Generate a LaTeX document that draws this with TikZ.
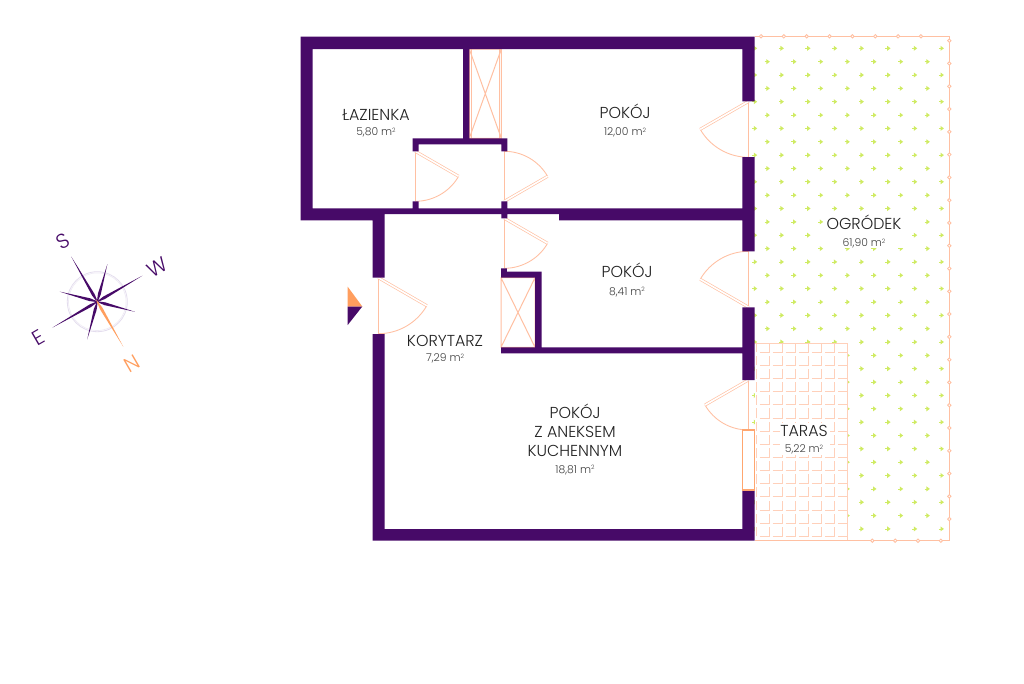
\documentclass[tikz,border=0pt]{standalone}
\usepackage{fontspec}
\setmainfont{Poppins Light}
\definecolor{wallc}{HTML}{470A68}
\definecolor{peach}{HTML}{FFC0A2}
\definecolor{tilec}{HTML}{FFD0BA}
\definecolor{markc}{HTML}{FF9E5E}
\definecolor{leafc}{HTML}{CFEB62}
\definecolor{inkc}{HTML}{222222}
\definecolor{inkb}{HTML}{404040}
\definecolor{ringc}{HTML}{E4DDEE}
\tikzset{
  wallfill/.style={fill=wallc},
  doorline/.style={draw=peach,line width=.65pt},
  doorleaf/.style={draw=peach,line width=.5pt,double=white,double distance=1.2pt},
  shaftline/.style={draw=peach,line width=.75pt},
  tileline/.style={draw=tilec,line width=.7pt},
  roomname/.style={anchor=base,text=inkc,font=\fontsize{11.9}{13}\selectfont,inner sep=0pt},
  roomarea/.style={anchor=base,text=inkb,font=\fontsize{8.1}{9}\selectfont,inner sep=0pt},
  compassletter/.style={font=\fontsize{15.5}{17}\selectfont,inner sep=0pt,rotate=30},
}
\newcommand{\sqm}{m\raisebox{.55ex}{\fontsize{4.5}{5}\selectfont 2}}
\newcommand{\doorswing}[5]{%
  \draw[doorline] (#1,#2) -- +(#5:#3);
  \draw[doorline] (#1,#2) +(#4:#3) arc[start angle=#4,end angle=#5,radius=#3];
  \draw[doorleaf] (#1,#2) -- +(#4:#3);
}
\newcommand{\spike}[3]{%
  \begin{scope}[shift={(97.3,301.7)},rotate=#1]
    \fill[fill=#3] (0,-#2) -- (1.45,-8) -- (0,3) -- (-1.45,-8) -- cycle;
  \end{scope}
}
\begin{document}
\begin{tikzpicture}[x=.75pt,y=-.75pt]
\useasboundingbox (0,0) rectangle (1024,683);
\fill[white] (0,0) rectangle (1024,683);
% garden arrows
\foreach \k in {0,...,18}{\foreach \j in {0,...,7}{
  \pgfmathsetmacro{\ax}{754.7+26.67*\j}\pgfmathsetmacro{\ay}{48.3+26.7*\k}
  \draw[leafc,line width=.5pt] (\ax-2.6,\ay) -- (\ax,\ay);
  \fill[leafc] (\ax-.9,\ay-2.5) -- (\ax+2.5,\ay) -- (\ax-.9,\ay+2.5) -- cycle;
}}
\foreach \k in {0,...,17}{\foreach \j in {0,...,6}{
  \pgfmathsetmacro{\ax}{767.3+26.67*\j}\pgfmathsetmacro{\ay}{61.7+26.7*\k}
  \draw[leafc,line width=.5pt] (\ax-2.6,\ay) -- (\ax,\ay);
  \fill[leafc] (\ax-.9,\ay-2.5) -- (\ax+2.5,\ay) -- (\ax-.9,\ay+2.5) -- cycle;
}}
\fill[white] (825,215) rectangle (903,248);
% terrace
\fill[white] (754.7,343) rectangle (847.5,540.7);
\foreach \r in {0,...,14}{\foreach \c in {0,...,6}{
  \pgfmathsetmacro{\tx}{769.3+13.1*\c}\pgfmathsetmacro{\ty}{352.3+13.15*\r}
  \draw[tileline] (\tx-9.8,\ty) -- (\tx,\ty) -- (\tx,\ty-9.6);
}}
\foreach \r in {0,...,14}{\pgfmathsetmacro{\ty}{352.3+13.15*\r}
  \draw[tileline] (756,\ty) -- (756,\ty-9.6);}
\fill[white] (780,423) rectangle (830,455);
\draw[tileline] (748,343) -- (847.7,343) -- (847.7,540.7);
% garden fence
\draw[doorline,line width=.75pt] (754.7,36.3) -- (949.3,36.3) -- (949.3,540.7) -- (754.7,540.7);
\foreach \j in {0,...,7}{\filldraw[doorline,fill=white] (761+22.85*\j,36.3) circle[radius=1.7];}
\foreach \j in {0,...,21}{\filldraw[doorline,fill=white] (949.3,40.7+22.78*\j) circle[radius=1.7];}
\foreach \j in {0,...,3}{\filldraw[doorline,fill=white] (872.3+22.85*\j,540.7) circle[radius=1.7];}
% shafts
\draw[shaftline] (469.3,49) rectangle (501.3,138.3) (469.3,49) -- (501.3,138.3) (501.3,49) -- (469.3,138.3);
\draw[doorline,line width=.45pt] (471,49) -- (471,138.3) (499.6,49) -- (499.6,138.3);
\draw[shaftline] (501,277.7) rectangle (535,347.3) (501,277.7) -- (535,347.3) (535,277.7) -- (501,347.3);
% doors
\doorswing{415.3}{151.3}{50}{30}{90}
\doorswing{504.3}{201.3}{50}{-30}{-90}
\doorswing{504.3}{218.3}{50}{30}{90}
\doorswing{378.3}{277.7}{56}{30}{90}
\doorswing{748.7}{101.3}{56}{150}{90}
\doorswing{748.7}{307.3}{56}{210}{270}
\doorswing{748.3}{380}{50}{150}{90}
% walls
\fill[wallfill]
  (300.5,36.7) rectangle (754.7,49)
  (300.5,36.7) rectangle (312.7,220.3)
  (300.5,208.3) rectangle (384.7,220.3)
  (384.7,208.3) rectangle (559,214)
  (559,208.3) rectangle (742.3,220.3)
  (372.5,220) rectangle (384.7,277.7)
  (372.5,334) rectangle (384.7,540.7)
  (372.5,529) rectangle (754.7,540.7)
  (742.3,36.7) rectangle (754.7,101.3)
  (742.3,157) rectangle (754.7,251.3)
  (742.3,307.3) rectangle (754.7,380)
  (742.3,490) rectangle (754.7,540.7)
  (463,49) rectangle (469.3,138.3)
  (412.7,138.3) rectangle (507.3,144.3)
  (412.7,144) rectangle (418.7,151.3)
  (501.3,144) rectangle (507.3,151.3)
  (412.7,201.3) rectangle (418.7,208.5)
  (501.3,201.3) rectangle (507.3,218.3)
  (501,268.3) rectangle (506.8,277.7)
  (501,271.7) rectangle (541.7,277.7)
  (535,271.7) rectangle (541.7,353.3)
  (501,347.3) rectangle (742.5,353.3);
% window
\draw[draw=markc!75!peach,line width=.8pt,fill=white] (742.6,430) rectangle (754.4,490);
% entrance marker
\fill[markc] (347.7,286.7) -- (362.3,306.5) -- (347.7,306.5) -- cycle;
\fill[wallc] (347.7,306.5) -- (362.3,306.5) -- (347.7,325) -- cycle;
% room labels
\node[roomname] (n1) at (376,120) {ŁAZIENKA};
\node[roomarea] (a1) at (376,135.7) {5,80 \sqm};
\node[roomname] (n2) at (625,118.5) {POKÓJ};
\node[roomarea] (a2) at (625,135.5) {12,00 \sqm};
\node[roomname] (n3) at (627,277) {POKÓJ};
\node[roomarea] (a3) at (627,295) {8,41 \sqm};
\node[roomname] (n4) at (445,346) {KORYTARZ};
\node[roomarea] (a4) at (445,361.7) {7,29 \sqm};
\node[roomname] (n5a) at (575,418) {POKÓJ};
\node[roomname] (n5b) at (575,437) {Z ANEKSEM};
\node[roomname] (n5c) at (575,456.5) {KUCHENNYM};
\node[roomarea] (a5) at (575,473) {18,81 \sqm};
\node[roomname] (n6) at (864,229.3) {OGRÓDEK};
\node[roomarea] (a6) at (864,246.7) {61,90 \sqm};
\node[roomname] (n7) at (804,436) {TARAS};
\node[roomarea] (a7) at (804,452.7) {5,22 \sqm};
% compass
\draw[ringc,line width=.6pt] (97.3,301.7) circle[radius=30];
\draw[ringc!60,line width=.5pt] (97.3,301.7) circle[radius=28.8];
\spike{-15}{39}{wallc}
\spike{75}{39}{wallc}
\spike{165}{39}{wallc}
\spike{255}{39}{wallc}
\spike{30}{52}{wallc}
\spike{-60}{52}{wallc}
\spike{120}{52}{wallc}
\spike{210}{52}{markc}
\fill[markc] (97.8,302.3) circle[radius=1];
\node[compassletter,text=wallc] (cs) at (63.3,241.5) {S};
\node[compassletter,text=wallc] (cw) at (157.3,267) {W};
\node[compassletter,text=wallc] (ce) at (38.3,337.5) {E};
\node[compassletter,text=markc] (cn) at (132.3,363.5) {N};
\end{tikzpicture}
\end{document}
